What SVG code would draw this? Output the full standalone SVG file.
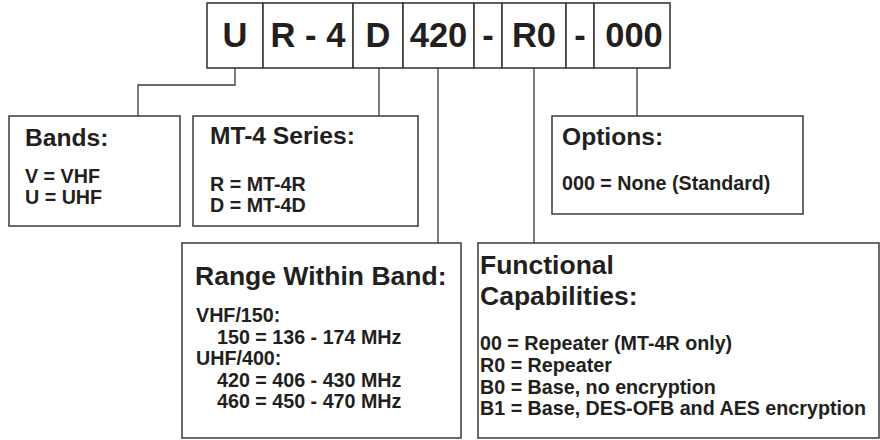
<svg xmlns="http://www.w3.org/2000/svg" width="880" height="440" viewBox="0 0 880 440">
<style>
.cell{fill:#fff;stroke:#3a3a3a;stroke-width:1.6}
.box{fill:#fff;stroke:#3a3a3a;stroke-width:1.5}
.code{font-family:"Liberation Sans",Arial,sans-serif;font-weight:bold;font-size:34.5px;fill:#231f20;text-anchor:middle}
.title{font-family:"Liberation Sans",Arial,sans-serif;font-weight:bold;font-size:24.6px;fill:#231f20}
.big{font-size:26.5px}
.body{font-family:"Liberation Sans",Arial,sans-serif;font-weight:bold;font-size:19.7px;fill:#231f20}
.conn{fill:none;stroke:#3a3a3a;stroke-width:1.3}
</style>
<g id="code">
<rect class="cell" x="207" y="3" width="56" height="65"/>
<rect class="cell" x="263" y="3" width="90" height="65"/>
<rect class="cell" x="353" y="3" width="50" height="65"/>
<rect class="cell" x="403" y="3" width="71" height="65"/>
<rect class="cell" x="474" y="3" width="28" height="65"/>
<rect class="cell" x="502" y="3" width="64" height="65"/>
<rect class="cell" x="566" y="3" width="28" height="65"/>
<rect class="cell" x="594" y="3" width="76" height="65"/>
<text class="code" x="235" y="47">U</text>
<text class="code" x="308" y="47">R - 4</text>
<text class="code" x="378" y="47">D</text>
<text class="code" x="438.5" y="47">420</text>
<text class="code" x="488" y="47">-</text>
<text class="code" x="534" y="47">R0</text>
<text class="code" x="580" y="47">-</text>
<text class="code" x="634" y="47">000</text>
</g>
<g id="connectors">
<path class="conn" d="M235,68 V85 H138 V116"/>
<path class="conn" d="M379,68 V116"/>
<path class="conn" d="M438,68 V243"/>
<path class="conn" d="M534,68 V243"/>
<path class="conn" d="M637,68 V116"/>
</g>
<g id="bands">
<rect class="box" x="9" y="116" width="171" height="110"/>
<text class="title" x="25" y="146">Bands:</text>
<text class="body" x="25" y="183">V = VHF</text>
<text class="body" x="25" y="204">U = UHF</text>
</g>
<g id="series">
<rect class="box" x="193" y="116" width="225" height="110"/>
<text class="title" x="210" y="144">MT-4 Series:</text>
<text class="body" x="210" y="191">R = MT-4R</text>
<text class="body" x="210" y="212">D = MT-4D</text>
</g>
<g id="options">
<rect class="box" x="552" y="116" width="251" height="98"/>
<text class="title" x="562" y="145">Options:</text>
<text class="body" x="562" y="190">000 = None (Standard)</text>
</g>
<g id="range">
<rect class="box" x="182" y="243" width="279" height="195"/>
<text class="title big" x="195" y="285">Range Within Band:</text>
<text class="body" x="196" y="322">VHF/150:</text>
<text class="body" x="217" y="344">150 = 136 - 174 MHz</text>
<text class="body" x="196" y="365">UHF/400:</text>
<text class="body" x="217" y="387">420 = 406 - 430 MHz</text>
<text class="body" x="217" y="408">460 = 450 - 470 MHz</text>
</g>
<g id="functional">
<rect class="box" x="478" y="243" width="401" height="195"/>
<text class="title big" x="480" y="274">Functional</text>
<text class="title big" x="480" y="305">Capabilities:</text>
<text class="body" x="480" y="350">00 = Repeater (MT-4R only)</text>
<text class="body" x="480" y="372">R0 = Repeater</text>
<text class="body" x="480" y="394">B0 = Base, no encryption</text>
<text class="body" x="480" y="415">B1 = Base, DES-OFB and AES encryption</text>
</g>
</svg>
